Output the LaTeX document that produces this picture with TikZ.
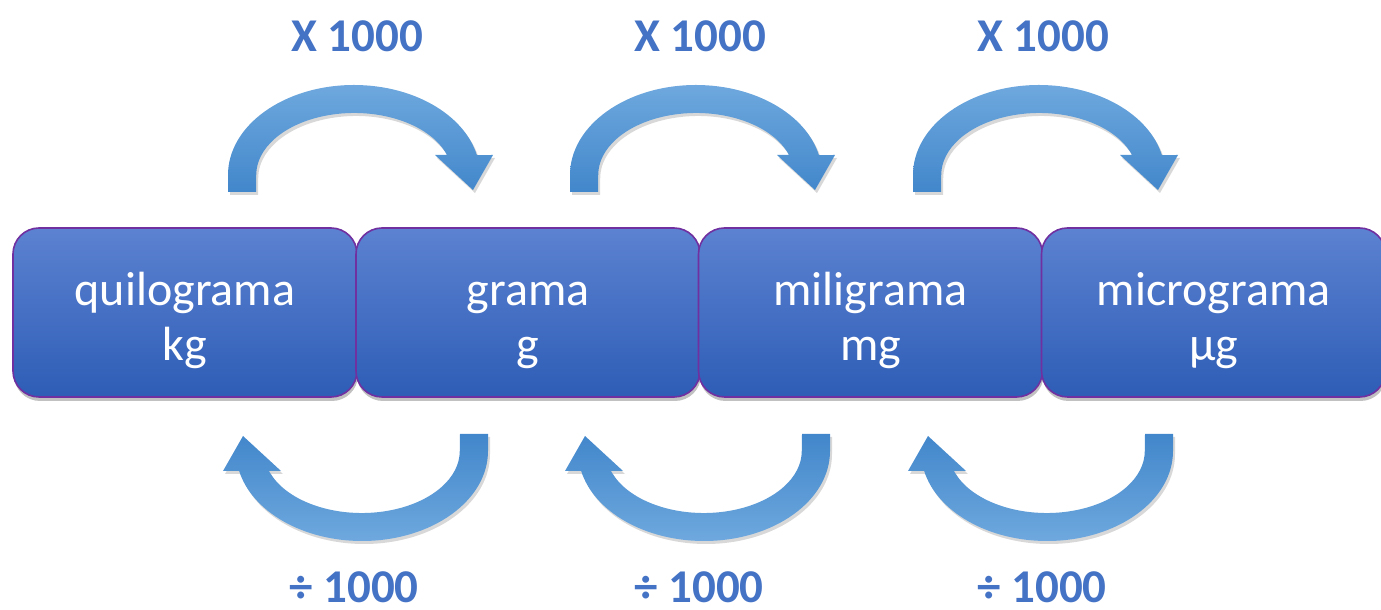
\documentclass[tikz,border=0pt]{standalone}
\usepackage{fontspec}
\setmainfont{Carlito}
\usetikzlibrary{shadows}
\definecolor{boxtop}{HTML}{5C82D1}
\definecolor{boxbot}{HTML}{2E5DB6}
\definecolor{boxline}{HTML}{7030A0}
\definecolor{arrlight}{HTML}{6EA8DE}
\definecolor{arrdark}{HTML}{4287CB}
\definecolor{lblblue}{HTML}{4472C4}
\newcommand\unittext[2]{\rule{0pt}{62pt}#1\\#2\rule[-20pt]{0pt}{20pt}}
\tikzset{
  unitbox/.style={rounded corners=26pt, minimum width=344pt, minimum height=169pt,
    draw=boxline, line width=1.6pt, top color=boxtop, bottom color=boxbot,
    text=white, align=center, inner sep=0pt,
    font=\fontsize{48}{55}\selectfont,
    drop shadow={shadow xshift=1pt, shadow yshift=-4pt, opacity=0.35, fill=black!70}},
  factor/.style={text=lblblue, font=\fontsize{47}{56}\selectfont\bfseries, inner sep=0pt},
  arrowfill/.style={top color=arrlight, bottom color=arrdark},
  curvearrow/.pic={
    \path[arrowfill,
      drop shadow={shadow xshift=2pt, shadow yshift=-3pt, opacity=0.22, fill=black!70}]
      (228,418) -- (228,435) arc[start angle=180, end angle=12.8, x radius=126, y radius=90]
      -- (493,455) -- (473,420) -- (435,455) -- (447,455)
      arc[start angle=18.8, end angle=180, x radius=98, y radius=62]
      -- (256,418) -- cycle;
  },
  downarrow/.style={rotate=180, arrowfill/.style={top color=arrdark, bottom color=arrlight}}
}
\begin{document}
\begin{tikzpicture}[x=1pt, y=1pt]
\useasboundingbox (0,0) rectangle (1381,610);
% boxes
\node[unitbox] (b1) at (185,297.5) {\unittext{quilograma}{kg}};
\node[unitbox] (b2) at (528,297.5) {\unittext{grama}{g}};
\node[unitbox] (b3) at (870.5,297.5) {\unittext{miligrama}{mg}};
\node[unitbox] (b4) at (1213.5,297.5) {\unittext{micrograma}{µg}};
% upper arrows (multiply)
\pic at (0,0) {curvearrow};
\pic at (342,0) {curvearrow};
\pic at (685,0) {curvearrow};
% lower arrows (divide)
\pic[downarrow] at (716,594) {curvearrow};
\pic[downarrow] at (1058,594) {curvearrow};
\pic[downarrow] at (1401,594) {curvearrow};
% labels
\node[factor] (m1) at (357,574) {X 1000};
\node[factor] (m2) at (700,574) {X 1000};
\node[factor] (m3) at (1043,574) {X 1000};
\node[factor] (d1) at (354,23) {÷ 1000};
\node[factor] (d2) at (699,23) {÷ 1000};
\node[factor] (d3) at (1042,23) {÷ 1000};
\end{tikzpicture}
\end{document}
